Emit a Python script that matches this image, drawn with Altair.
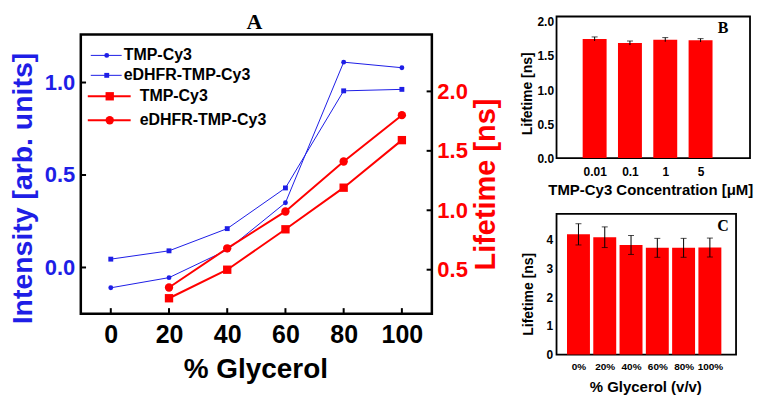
import altair as alt
import pandas as pd

# ---------------- data ----------------
glycerol = [0, 20, 40, 60, 80, 100]
int_tmp = [-0.11, -0.055, 0.095, 0.35, 1.11, 1.08]
int_edhfr = [0.045, 0.09, 0.21, 0.43, 0.955, 0.963]

life_glycerol = [20, 40, 60, 80, 100]
life_tmp = [0.26, 0.50, 0.84, 1.19, 1.59]
life_edhfr = [0.35, 0.68, 0.99, 1.41, 1.80]

conc_labels = ["0.01", "0.1", "1", "5"]
conc_life = [1.75, 1.69, 1.74, 1.73]
conc_err = [0.03, 0.03, 0.03, 0.025]

gly_labels = ["0%", "20%", "40%", "60%", "80%", "100%"]
gly_life = [4.19, 4.09, 3.82, 3.72, 3.72, 3.73]
gly_err = [0.37, 0.36, 0.33, 0.33, 0.33, 0.33]

int_ticks = [0, 0.5, 1.0]
life_ticks = [0.5, 1.0, 1.5, 2.0]

SERIES = ["TMP-Cy3|I", "eDHFR-TMP-Cy3|I", "TMP-Cy3|L", "eDHFR-TMP-Cy3|L"]
legend_labels = ["TMP-Cy3", "eDHFR-TMP-Cy3", "TMP-Cy3", "eDHFR-TMP-Cy3"]

BLUE = "#1e1ee6"
RED = "#ff0000"
SANS = "Liberation Sans"
SERIF = "Liberation Serif"

# axis frames (data space of panel A)
X_DOM = [-10.3, 110.3]
I_FRAME = [-0.25, 1.26]
I_DOM = [-0.25, 1.357]
L_DOM = [0.13, 2.63]
X_TICK_LEN = 1.8      # inward tick length in x data units (~5 px)
I_TICK_LEN = 0.03     # inward tick length in intensity units (~5 px)

df_int = pd.DataFrame({
    "glycerol": glycerol + glycerol,
    "value": int_tmp + int_edhfr,
    "series": [SERIES[0]] * len(glycerol) + [SERIES[1]] * len(glycerol),
})
df_life = pd.DataFrame({
    "glycerol": life_glycerol + life_glycerol,
    "value": life_tmp + life_edhfr,
    "series": [SERIES[2]] * len(life_glycerol) + [SERIES[3]] * len(life_glycerol),
})

color_scale = alt.Scale(domain=SERIES, range=[BLUE, BLUE, RED, RED])
shape_scale = alt.Scale(domain=SERIES, range=["circle", "square", "square", "circle"])

x_a = alt.X("glycerol:Q", scale=alt.Scale(domain=X_DOM, nice=False, zero=False),
            axis=alt.Axis(values=glycerol, tickCount=20, title="% Glycerol", labelFontSize=25,
                          titleFontSize=28, labelPadding=9, titleX=175, titleY=42, labelFlush=False,
                          labelOverlap=False))

y_i = alt.Y("value:Q", scale=alt.Scale(domain=I_DOM, nice=False, zero=False),
            axis=alt.Axis(orient="left", values=int_ticks, tickCount=20, format=".1f",
                          labelColor=BLUE, titleColor=BLUE, labelFontSize=22, titleFontSize=28.5,
                          title="Intensity [arb. units]", labelPadding=6, titleX=-43, titleY=172,
                          labelOverlap=False))

base_i = alt.Chart(df_int).encode(
    x=x_a, y=y_i,
    color=alt.Color("series:N", scale=color_scale, legend=None),
)
lines_i = base_i.mark_line(strokeWidth=1)
pts_i = base_i.mark_point(filled=True, size=24, opacity=1).encode(
    shape=alt.Shape("series:N", scale=shape_scale, legend=None))

frame_a = alt.Chart(pd.DataFrame({"x0": [X_DOM[0]], "x1": [X_DOM[1]],
                                  "y0": [I_FRAME[0]], "y1": [I_FRAME[1]]})).mark_rect(
    fill="transparent", stroke="black", strokeWidth=2.5).encode(
    x="x0:Q", x2="x1", y="y0:Q", y2="y1")

# inward tick marks on panel A's frame
ticks_bottom = alt.Chart(pd.DataFrame({"x": glycerol, "y0": I_FRAME[0],
                                       "y1": I_FRAME[0] + I_TICK_LEN})).mark_rule(
    color="black", strokeWidth=2).encode(x="x:Q", y="y0:Q", y2="y1")
ticks_left = alt.Chart(pd.DataFrame({"y": int_ticks, "x0": X_DOM[0],
                                     "x1": X_DOM[0] + X_TICK_LEN})).mark_rule(
    color="black", strokeWidth=2).encode(y="y:Q", x="x0:Q", x2="x1")

base_l = alt.Chart(df_life).encode(
    x=x_a,
    y=alt.Y("value:Q", scale=alt.Scale(domain=L_DOM, nice=False, zero=False),
            axis=alt.Axis(orient="right", values=life_ticks, tickCount=20, format=".1f",
                          labelColor=RED, titleColor=RED, labelFontSize=22, titleFontSize=29,
                          title="Lifetime [ns]", titleAngle=270, titleBaseline="top",
                          labelPadding=5, titleX=40, titleY=168, labelOverlap=False)),
    color=alt.Color("series:N", scale=color_scale, legend=None),
)
lines_l = base_l.mark_line(strokeWidth=2)
pts_l = base_l.mark_point(filled=True, size=70, opacity=1).encode(
    shape=alt.Shape("series:N", scale=shape_scale, legend=None))
ticks_right = alt.Chart(pd.DataFrame({"value": life_ticks, "x0": X_DOM[1] - X_TICK_LEN,
                                      "x1": X_DOM[1]})).mark_rule(
    color="black", strokeWidth=2).encode(y="value:Q", x="x0:Q", x2="x1")

# ---------------- hand-drawn legend inside panel A ----------------
leg_rows_y = [39, 59, 80, 104]
leg_layers = []
for i, lab in enumerate(legend_labels):
    blue = i < 2
    col = BLUE if blue else RED
    x0, x1, xm, xt = (10, 41, 26, 43) if blue else (7, 50, 29, 59)
    shape = ["circle", "square", "square", "circle"][i]
    one = alt.Chart(pd.DataFrame({"t": [lab]}))
    leg_layers.append(one.mark_rule(color=col, strokeWidth=1 if blue else 2).encode(
        x=alt.value(x0), x2=alt.value(x1), y=alt.value(leg_rows_y[i])))
    leg_layers.append(one.mark_point(filled=True, opacity=1, color=col, shape=shape,
                                     size=24 if blue else 70).encode(
        x=alt.value(xm), y=alt.value(leg_rows_y[i])))
    leg_layers.append(one.mark_text(font=SANS, fontWeight="bold", fontSize=16, color="black",
                                    align="left", baseline="middle").encode(
        text="t:N", x=alt.value(xt), y=alt.value(leg_rows_y[i])))

title_a = alt.Chart(pd.DataFrame({"t": ["A"]})).mark_text(
    font=SERIF, fontWeight="bold", fontSize=22, baseline="middle", align="center"
).encode(text="t:N", x=alt.value(174), y=alt.value(6))

panel_a = alt.layer(
    alt.layer(frame_a, ticks_bottom, ticks_left, lines_i, pts_i, title_a, *leg_layers),
    alt.layer(lines_l, pts_l, ticks_right),
).resolve_scale(y="independent").properties(
    width=352, height=298, view=alt.ViewBackground(stroke="transparent"))

# ---------------- panel B ----------------
df_b = pd.DataFrame({
    "idx": list(range(1, len(conc_labels) + 1)),
    "life": conc_life,
    "lo": [v - e for v, e in zip(conc_life, conc_err)],
    "hi": [v + e for v, e in zip(conc_life, conc_err)],
})
b_label_expr = "[" + ",".join(["''"] + [f"'{s}'" for s in conc_labels]) + "][datum.value]"
x_b = alt.X("idx:Q", scale=alt.Scale(domain=[0.062, 5.259], nice=False, zero=False),
            axis=alt.Axis(values=list(range(1, len(conc_labels) + 1)), tickCount=20,
                          labelExpr=b_label_expr, title="TMP-Cy3 Concentration [\u03bcM]",
                          labelFontSize=12, titleFontSize=15, labelPadding=8, titleX=94,
                          titleY=24, labelFlush=False, labelOverlap=False))
y_b = alt.Y("life:Q", scale=alt.Scale(domain=[0, 2.08], nice=False),
            axis=alt.Axis(values=[0, 0.5, 1.0, 1.5, 2.0], tickCount=20, format=".1f",
                          title="Lifetime [ns]", labelFontSize=12, titleFontSize=14, labelPadding=3,
                          titleX=-22, titleY=77, labelOverlap=False, labelFlush=False))
bars_b = alt.Chart(df_b).mark_bar(size=24, color=RED).encode(x=x_b, y=y_b)
err_b = alt.Chart(df_b).mark_rule(color="black", strokeWidth=1).encode(x="idx:Q", y="lo:Q", y2="hi:Q")
cap_b = alt.Chart(df_b).mark_tick(orient="horizontal", size=6, thickness=1, color="black").encode(
    x="idx:Q", y="hi:Q")
lab_b = alt.Chart(pd.DataFrame({"t": ["B"]})).mark_text(
    font=SERIF, fontWeight="bold", fontSize=16, baseline="middle", align="center"
).encode(text="t:N", x=alt.value(167), y=alt.value(12))
panel_b = alt.layer(bars_b, err_b, cap_b, lab_b).properties(
    width=194, height=142, view=alt.ViewBackground(stroke="black", strokeWidth=1.8))

# ---------------- panel C ----------------
df_c = pd.DataFrame({
    "idx": list(range(len(gly_labels))),
    "life": gly_life,
    "lo": [v - e for v, e in zip(gly_life, gly_err)],
    "hi": [v + e for v, e in zip(gly_life, gly_err)],
})
c_label_expr = "[" + ",".join([f"'{s}'" for s in gly_labels]) + "][datum.value]"
x_c = alt.X("idx:Q", scale=alt.Scale(domain=[-0.645, 5.806], nice=False, zero=False),
            axis=alt.Axis(values=list(range(len(gly_labels))), tickCount=20, labelExpr=c_label_expr,
                          title="% Glycerol (v/v)", labelFontSize=10, titleFontSize=15,
                          labelPadding=7, titleX=89, titleY=25, labelFlush=False,
                          labelOverlap=False))
y_c = alt.Y("life:Q", scale=alt.Scale(domain=[0, 4.9], nice=False),
            axis=alt.Axis(values=[0, 1, 2, 3, 4], tickCount=20, format="d", title="Lifetime [ns]",
                          labelFontSize=12, titleFontSize=14, labelPadding=4,
                          titleX=-21, titleY=80, labelOverlap=False, labelFlush=False))
bars_c = alt.Chart(df_c).mark_bar(size=23, color=RED).encode(x=x_c, y=y_c)
err_c = alt.Chart(df_c).mark_rule(color="black", strokeWidth=1).encode(x="idx:Q", y="lo:Q", y2="hi:Q")
cap_c_hi = alt.Chart(df_c).mark_tick(orient="horizontal", size=6, thickness=1, color="black").encode(
    x="idx:Q", y="hi:Q")
cap_c_lo = alt.Chart(df_c).mark_tick(orient="horizontal", size=6, thickness=1, color="black").encode(
    x="idx:Q", y="lo:Q")
lab_c = alt.Chart(pd.DataFrame({"t": ["C"]})).mark_text(
    font=SERIF, fontWeight="bold", fontSize=16, baseline="middle", align="center"
).encode(text="t:N", x=alt.value(167), y=alt.value(12))
panel_c = alt.layer(bars_c, err_c, cap_c_hi, cap_c_lo, lab_c).properties(
    width=180, height=141, view=alt.ViewBackground(stroke="black", strokeWidth=1.8))

right_col = alt.vconcat(panel_b, panel_c, spacing=56, bounds="flush")

chart = alt.hconcat(panel_a, right_col, spacing=125, bounds="flush").properties(
    padding={"left": 0, "top": 2, "right": 0, "bottom": 0},
    background="white",
).configure_axis(
    labelFont=SANS, titleFont=SANS, labelFontWeight="bold", titleFontWeight="bold",
    labelColor="black", titleColor="black", grid=False, domain=False, ticks=False,
    labelOverlap=False,
).configure_view(stroke="black")

chart.save("out.html", embed_options={"renderer": "svg", "actions": False})
